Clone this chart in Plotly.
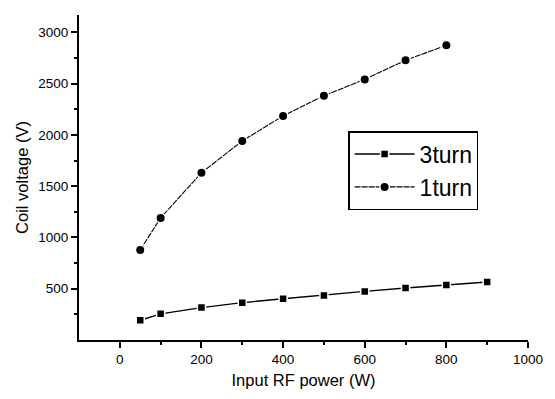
import plotly.graph_objects as go

power_3turn = [50, 100, 200, 300, 400, 500, 600, 700, 800, 900]
voltage_3turn = [193, 255, 316, 364, 403, 435, 474, 507, 536, 565]
power_1turn = [50, 100, 200, 300, 400, 500, 600, 700, 800]
voltage_1turn = [878, 1191, 1631, 1941, 2186, 2383, 2542, 2729, 2874]

font = "Liberation Sans, Arial, sans-serif"

fig = go.Figure()
fig.add_trace(go.Scatter(
    x=power_3turn, y=voltage_3turn, name="3turn", mode="lines+markers",
    line=dict(color="black", width=1.4),
    marker=dict(symbol="square", size=8, color="black", line=dict(color="white", width=1.5)),
))
fig.add_trace(go.Scatter(
    x=power_1turn, y=voltage_1turn, name="1turn", mode="lines+markers",
    line=dict(color="black", width=1.1, dash="6px,1px"),
    marker=dict(symbol="circle", size=9.5, color="black", line=dict(color="white", width=1.5)),
))

fig.update_layout(
    width=555, height=399,
    margin=dict(l=79, r=20, t=15, b=56),
    paper_bgcolor="white", plot_bgcolor="white",
    font=dict(family=font, color="black"),
    showlegend=True,
    legend=dict(
        x=0.6, y=0.642, xanchor="left", yanchor="top",
        bordercolor="black", borderwidth=1.2, bgcolor="white",
        font=dict(size=23, family=font),
        itemwidth=60, tracegroupgap=0,
    ),
)
fig.update_xaxes(
    range=[-100, 1000], tickvals=[0, 200, 400, 600, 800, 1000],
    showgrid=False, zeroline=False,
    showline=True, linecolor="black", linewidth=2,
    ticks="outside", ticklen=6, tickwidth=2, tickcolor="black",
    minor=dict(tickvals=[100, 300, 500, 700, 900], ticks="outside", ticklen=3, tickwidth=1.5, tickcolor="black"),
    tickfont=dict(size=13.5, family=font),
    title=dict(text="Input RF power (W)", font=dict(size=16.5, family=font), standoff=8),
)
fig.update_yaxes(
    range=[0, 3170], tickvals=[500, 1000, 1500, 2000, 2500, 3000],
    showgrid=False, zeroline=False,
    showline=True, linecolor="black", linewidth=2,
    ticks="outside", ticklen=6, tickwidth=2, tickcolor="black",
    minor=dict(tickvals=[250, 750, 1250, 1750, 2250, 2750], ticks="outside", ticklen=3, tickwidth=1.5, tickcolor="black"),
    tickfont=dict(size=13.5, family=font),
    title=dict(text="Coil voltage (V)", font=dict(size=16.5, family=font), standoff=5),
)

fig.write_html("out.html")
